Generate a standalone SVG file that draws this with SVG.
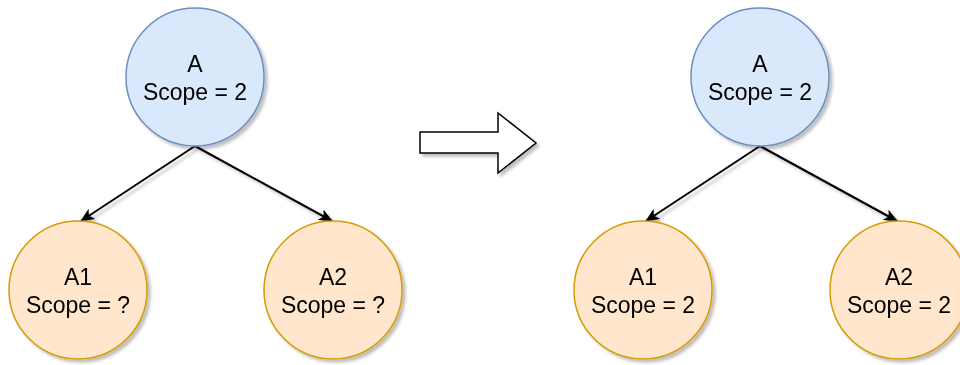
<svg xmlns="http://www.w3.org/2000/svg" width="960" height="365" viewBox="0 0 960 365">
  <defs>
    <filter id="shadow" x="-20%" y="-20%" width="150%" height="150%">
      <feGaussianBlur in="SourceAlpha" stdDeviation="1.7"/>
      <feOffset dx="3" dy="3" result="b"/>
      <feFlood flood-color="#000" flood-opacity="0.25"/>
      <feComposite in2="b" operator="in"/>
      <feMerge><feMergeNode/><feMergeNode in="SourceGraphic"/></feMerge>
    </filter>
    <marker id="arrow" viewBox="0 0 14 12" refX="13" refY="6" markerWidth="14" markerHeight="12" markerUnits="userSpaceOnUse" orient="auto">
      <path d="M0,0 L14,6 L0,12 L3.5,6 Z" fill="#000"/>
    </marker>
  </defs>
  <style>
    .parent { fill: #dae8fc; stroke: #6c8ebf; stroke-width: 1.5; }
    .child { fill: #ffe6cc; stroke: #d79b00; stroke-width: 1.5; }
    .label { font-family: "Liberation Sans", Arial, sans-serif; font-size: 23px; fill: #000; text-anchor: middle; }
    .edge { stroke: #000; stroke-width: 2; fill: none; marker-end: url(#arrow); }
  </style>
  <rect width="960" height="365" fill="#fff"/>

  <g id="connectors" filter="url(#shadow)">
    <line class="edge" x1="195" y1="146" x2="81" y2="221"/>
    <line class="edge" x1="195" y1="146" x2="332" y2="221"/>
    <line class="edge" x1="760" y1="146" x2="646" y2="221"/>
    <line class="edge" x1="760" y1="146" x2="897" y2="221"/>
  </g>

  <g id="left-A" filter="url(#shadow)">
    <circle class="parent" cx="195" cy="77" r="69"/>
    <text class="label" x="195" y="72">A</text>
    <text class="label" x="195" y="100">Scope = 2</text>
  </g>
  <g id="left-A1" filter="url(#shadow)">
    <circle class="child" cx="78" cy="290" r="69"/>
    <text class="label" x="78" y="285">A1</text>
    <text class="label" x="78" y="313">Scope = ?</text>
  </g>
  <g id="left-A2" filter="url(#shadow)">
    <circle class="child" cx="333" cy="290" r="69"/>
    <text class="label" x="333" y="285">A2</text>
    <text class="label" x="333" y="313">Scope = ?</text>
  </g>

  <g id="transition" filter="url(#shadow)">
    <path d="M420,132 L498,132 L498,113 L536,143 L498,173 L498,153 L420,153 Z" fill="#fff" stroke="#000" stroke-width="1.5" stroke-linejoin="miter"/>
  </g>

  <g id="right-A" filter="url(#shadow)">
    <circle class="parent" cx="760" cy="77" r="69"/>
    <text class="label" x="760" y="72">A</text>
    <text class="label" x="760" y="100">Scope = 2</text>
  </g>
  <g id="right-A1" filter="url(#shadow)">
    <circle class="child" cx="643" cy="290" r="69"/>
    <text class="label" x="643" y="285">A1</text>
    <text class="label" x="643" y="313">Scope = 2</text>
  </g>
  <g id="right-A2" filter="url(#shadow)">
    <circle class="child" cx="899" cy="290" r="69"/>
    <text class="label" x="899" y="285">A2</text>
    <text class="label" x="899" y="313">Scope = 2</text>
  </g>
</svg>
